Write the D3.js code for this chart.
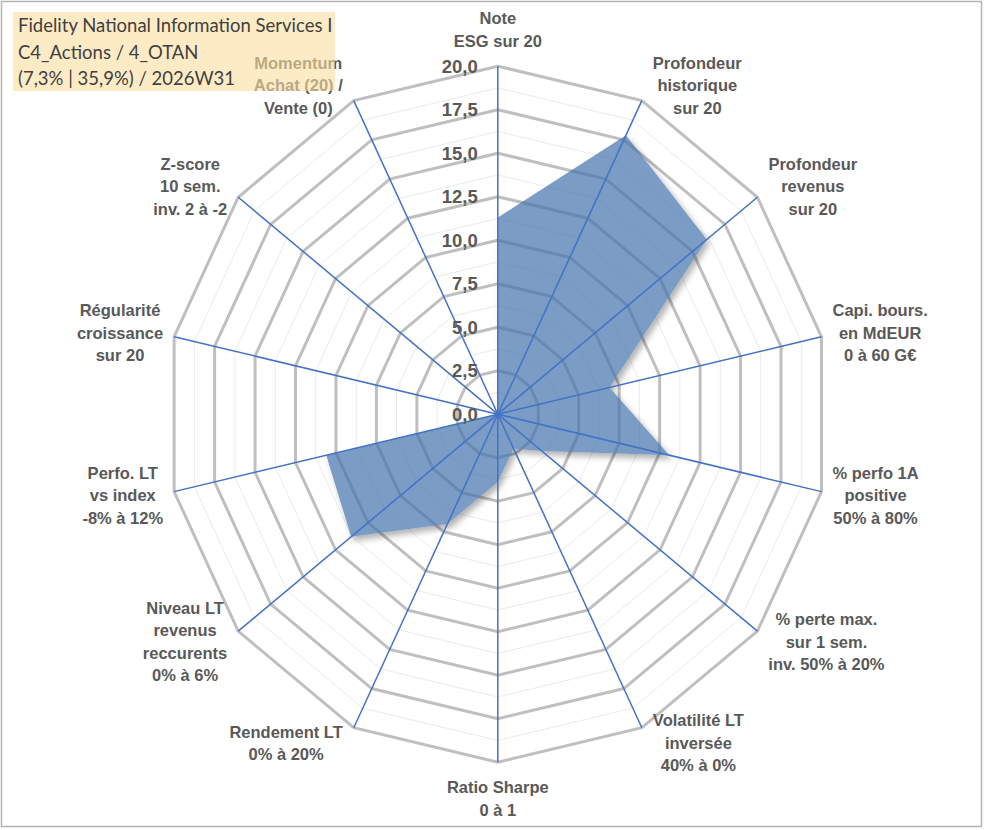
<!DOCTYPE html>
<html>
<head>
<meta charset="utf-8">
<script src="https://cdn.jsdelivr.net/npm/d3@7"></script>
<style>
  html, body { margin: 0; padding: 0; background: #fff; }
  svg { display: block; }
</style>
</head>
<body>
<div id="chart"></div>
<script>
// axis labels, clockwise from the top
const axisLabels = [
  ['Note', 'ESG sur 20'],
  ['Profondeur', 'historique', 'sur 20'],
  ['Profondeur', 'revenus', 'sur 20'],
  ['Capi. bours.', 'en MdEUR', '0 à 60 G€'],
  ['% perfo 1A', 'positive', '50% à 80%'],
  ['% perte max.', 'sur 1 sem.', 'inv. 50% à 20%'],
  ['Volatilité LT', 'inversée', '40% à 0%'],
  ['Ratio Sharpe', '0 à 1'],
  ['Rendement LT', '0% à 20%'],
  ['Niveau LT', 'revenus', 'reccurents', '0% à 6%'],
  ['Perfo. LT', 'vs index', '-8% à 12%'],
  ['Régularité', 'croissance', 'sur 20'],
  ['Z-score', '10 sem.', 'inv. 2 à -2'],
  ['Momentum', 'Achat (20) /', 'Vente (0)']
];
const scores = [11.3, 17.8, 16.1, 6.9, 10.6, 3.4, 2.2, 3.9, 7.0, 11.3, 10.6, 0, 0, 0];
const tickValues = [0, 2.5, 5, 7.5, 10, 12.5, 15, 17.5, 20];
const tickLabels = ['0,0', '2,5', '5,0', '7,5', '10,0', '12,5', '15,0', '17,5', '20,0'];
const titleLines = [
  'Fidelity National Information Services I',
  'C4_Actions / 4_OTAN',
  '(7,3% | 35,9%) / 2026W31'
];

const W = 991, H = 830;
const CX = 497.8, CY = 414.2;
const RX = 332, RY = 348;   // the picture is a bit squeezed horizontally
const N = axisLabels.length;
const FONT = "'Liberation Sans', Arial, sans-serif";

const r = d3.scaleLinear().domain([0, 20]).range([0, 1]);
const angle = d3.scaleLinear().domain([0, N]).range([0, 2 * Math.PI]);
const px = (i, v) => CX + Math.sin(angle(i)) * r(v) * RX;
const py = (i, v) => CY - Math.cos(angle(i)) * r(v) * RY;

const svg = d3.select('#chart').append('svg')
  .attr('width', W)
  .attr('height', H);

svg.append('rect')
  .attr('x', 1.5).attr('y', 1.5)
  .attr('width', 980).attr('height', 825)
  .attr('fill', '#fff')
  .attr('stroke', '#b4b4b4')
  .attr('stroke-width', 1.5);

const area = d3.line()
  .x((d, i) => px(i, d))
  .y((d, i) => py(i, d))
  .curve(d3.curveLinearClosed);

const defs = svg.append('defs');
defs.append('filter').attr('id', 'blur')
  .attr('x', '-10%').attr('y', '-10%').attr('width', '120%').attr('height', '120%')
  .append('feGaussianBlur').attr('stdDeviation', 3);
// shadow only outside the area
const mask = defs.append('mask').attr('id', 'outside');
mask.append('rect').attr('width', W).attr('height', H).attr('fill', '#fff');
mask.append('path').attr('d', area(scores)).attr('fill', '#000');

const ring = v => d3.range(N + 1).map(i => [px(i % N, v), py(i % N, v)]);
const line = d3.line();

// minor grid rings
svg.append('g').selectAll('path')
  .data(d3.range(1.25, 20, 2.5))
  .join('path')
  .attr('d', v => line(ring(v)))
  .attr('fill', 'none')
  .attr('stroke', '#ebebeb')
  .attr('stroke-width', 1);

// major grid rings
svg.append('g').selectAll('path')
  .data(tickValues.filter(v => v > 0))
  .join('path')
  .attr('d', v => line(ring(v)))
  .attr('fill', 'none')
  .attr('stroke', '#bfbfbf')
  .attr('stroke-width', 3);

// series area with a soft shadow
svg.append('g').attr('mask', 'url(#outside)')
  .append('path')
  .attr('d', area(scores))
  .attr('transform', 'translate(3,4)')
  .attr('fill', '#000')
  .attr('opacity', 0.3)
  .attr('filter', 'url(#blur)');

svg.append('path')
  .attr('d', area(scores))
  .attr('fill', '#4172ad')
  .attr('fill-opacity', 0.7);

// spokes
svg.append('g').selectAll('line')
  .data(d3.range(N))
  .join('line')
  .attr('x1', CX).attr('y1', CY)
  .attr('x2', i => px(i, 20))
  .attr('y2', i => py(i, 20))
  .attr('stroke', '#4472c4')
  .attr('stroke-width', 1.5);

// radial tick labels
svg.append('g').selectAll('text')
  .data(tickValues)
  .join('text')
  .attr('x', CX - 20)
  .attr('y', v => py(0, v))
  .attr('dy', '0.35em')
  .attr('text-anchor', 'end')
  .attr('font-family', FONT)
  .attr('font-weight', 'bold')
  .attr('font-size', 18.5)
  .attr('fill', '#595959')
  .text((v, i) => tickLabels[i]);

// axis category labels
const LH = 22.5;
const labels = svg.append('g')
  .attr('font-family', FONT)
  .attr('font-weight', 'bold')
  .attr('font-size', 16.5)
  .attr('fill', '#595959')
  .attr('text-anchor', 'middle');

axisLabels.forEach((lines, i) => {
  const g = labels.append('g');
  const t = g.append('text');
  lines.forEach((s, k) => t.append('tspan')
    .attr('x', 0).attr('y', k * LH).attr('dy', '0.35em').text(s));
  const w = d3.max(t.selectAll('tspan').nodes(), n => n.getComputedTextLength());
  const h = lines.length * LH;
  const sx = Math.sin(angle(i)), cy = -Math.cos(angle(i));
  const vx = px(i, 20), vy = py(i, 20);
  let bx, by;
  if (Math.abs(sx) < 0.1) {
    bx = vx;
    by = vy + cy * (h / 2 + 14);
  } else {
    bx = vx + Math.sign(sx) * (w / 2 + 11);
    by = vy + cy * 17;
  }
  // centre the block of lines on (bx, by)
  g.attr('transform', `translate(${bx},${by - h / 2 + LH / 2})`);
});

// title box, slightly see-through over the last label
const title = svg.append('g');
title.append('rect')
  .attr('x', 13).attr('y', 12)
  .attr('width', 322).attr('height', 79)
  .attr('fill', 'rgb(252,222,160)')
  .attr('opacity', 0.6);
title.selectAll('text')
  .data(titleLines)
  .join('text')
  .attr('x', 18)
  .attr('y', (d, i) => 26 + i * 26.5)
  .attr('dy', '0.35em')
  .attr('font-family', 'Lato, Open Sans, sans-serif')
  .attr('font-size', 18.5)
  .attr('fill', '#404040')
  .text(d => d);
</script>
</body>
</html>
